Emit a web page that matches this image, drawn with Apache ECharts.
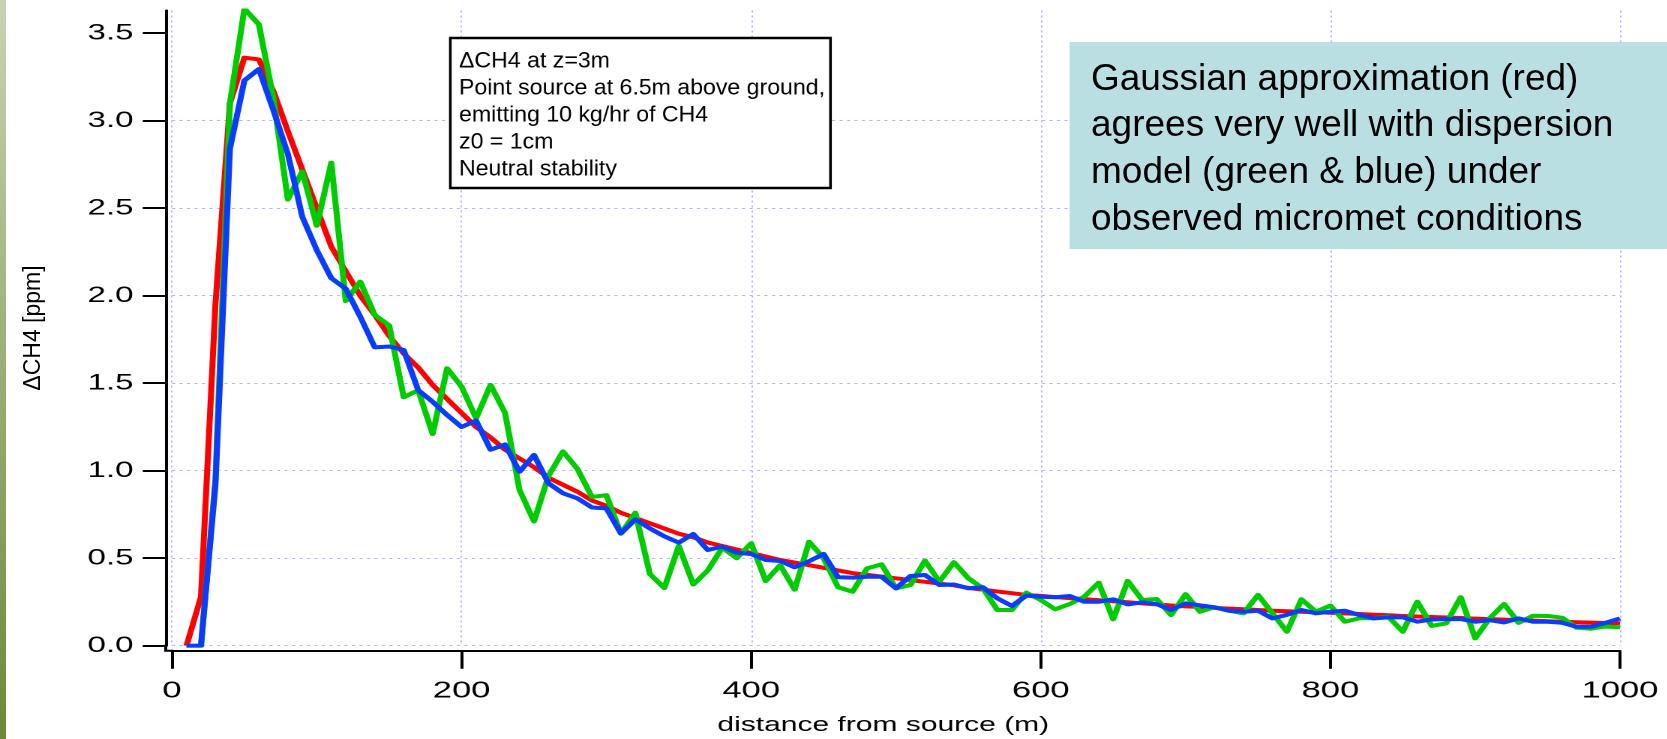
<!DOCTYPE html>
<html>
<head>
<meta charset="utf-8">
<script src="https://cdn.jsdelivr.net/npm/echarts@6/dist/echarts.min.js"></script>
<style>
html,body{margin:0;padding:0;background:#fff;overflow:hidden;width:1667px;height:739px}
#main{position:absolute;left:0;top:0;width:1111px;height:739px;transform:scaleX(1.5);transform-origin:0 0}
#over{position:absolute;left:0;top:0;width:1667px;height:739px;pointer-events:none}
</style>
</head>
<body>
<div id="main"></div>
<div id="over"></div>
<script>
// ---- data (distance in m, ΔCH4 in ppm) ----
const distance = [10,20,30,40,50,60,70,80,90,100,
  110,120,130,140,150,160,170,180,190,200,
  210,220,230,240,250,260,270,280,290,300,
  310,320,330,340,350,360,370,380,390,400,
  410,420,430,440,450,460,470,480,490,500,
  510,520,530,540,550,560,570,580,590,600,
  610,620,630,640,650,660,670,680,690,700,
  710,720,730,740,750,760,770,780,790,800,
  810,820,830,840,850,860,870,880,890,900,
  910,920,930,940,950,960,970,980,990,1000];

const gaussianRed = [0.00,0.28,1.95,3.10,3.36,3.35,3.17,2.94,2.72,2.50,
  2.28,2.14,2.00,1.89,1.77,1.67,1.59,1.49,1.41,1.33,
  1.25,1.19,1.12,1.07,1.02,0.96,0.92,0.88,0.83,0.80,
  0.76,0.73,0.70,0.67,0.64,0.62,0.59,0.57,0.55,0.53,
  0.51,0.49,0.475,0.46,0.445,0.43,0.415,0.405,0.395,0.385,
  0.375,0.365,0.355,0.345,0.33,0.32,0.31,0.30,0.29,0.285,
  0.278,0.272,0.266,0.26,0.254,0.248,0.242,0.236,0.23,0.225,
  0.222,0.216,0.212,0.208,0.204,0.20,0.197,0.194,0.191,0.188,
  0.185,0.181,0.177,0.174,0.17,0.167,0.164,0.161,0.158,0.155,
  0.152,0.149,0.146,0.143,0.14,0.137,0.134,0.132,0.13,0.128];

const modelGreen = [0.00,0.00,0.95,3.10,3.64,3.55,3.13,2.55,2.71,2.40,
  2.76,1.97,2.08,1.89,1.83,1.42,1.46,1.21,1.585,1.48,
  1.30,1.49,1.33,0.89,0.71,0.97,1.11,1.01,0.85,0.86,
  0.64,0.76,0.41,0.33,0.57,0.35,0.43,0.56,0.50,0.585,
  0.37,0.46,0.32,0.594,0.50,0.334,0.309,0.442,0.465,0.328,
  0.347,0.486,0.366,0.477,0.385,0.328,0.204,0.204,0.303,0.261,
  0.208,0.238,0.28,0.36,0.151,0.37,0.261,0.267,0.175,0.294,
  0.194,0.22,0.20,0.185,0.29,0.185,0.08,0.265,0.194,0.229,
  0.137,0.157,0.157,0.166,0.08,0.251,0.113,0.128,0.277,0.042,
  0.157,0.238,0.131,0.171,0.17,0.16,0.103,0.097,0.11,0.105];

const modelBlue = [0.00,0.00,0.92,2.84,3.23,3.295,3.06,2.81,2.45,2.26,
  2.10,2.04,1.88,1.705,1.71,1.69,1.46,1.394,1.318,1.25,
  1.286,1.12,1.15,0.994,1.09,0.928,0.871,0.842,0.79,0.785,
  0.642,0.722,0.67,0.625,0.589,0.638,0.547,0.566,0.531,0.524,
  0.49,0.484,0.448,0.483,0.524,0.391,0.389,0.394,0.394,0.328,
  0.398,0.404,0.347,0.35,0.328,0.334,0.271,0.227,0.286,0.28,
  0.277,0.284,0.251,0.251,0.265,0.236,0.248,0.238,0.204,0.242,
  0.231,0.219,0.20,0.194,0.20,0.156,0.176,0.204,0.185,0.194,
  0.20,0.175,0.156,0.162,0.162,0.137,0.15,0.152,0.152,0.137,
  0.146,0.133,0.156,0.137,0.137,0.131,0.108,0.108,0.131,0.156];

const xTicks = [0,200,400,600,800,1000];
const yTicks = [0,0.5,1.0,1.5,2.0,2.5,3.0,3.5];

const infoLines = ['ΔCH4 at z=3m','Point source at 6.5m above ground,','emitting 10 kg/hr of CH4','z0 = 1cm','Neutral stability'];
const noteLines = ['Gaussian approximation (red)','agrees very well with dispersion','model (green & blue) under','observed micromet conditions'];
const xTitle = 'distance from source (m)';
const yTitle = 'ΔCH4 [ppm]';

// ---- chart ----
const FONT = '"Liberation Sans", Arial, Helvetica, sans-serif';
const pairs = arr => distance.map((d, i) => [d, arr[i]]);
const gridColor = '#b3b3ff';

// layout (chart is drawn 1.5x stretched horizontally, like the original)
const G = {left: 114.67, right: 31, top: 10.45, bottom: 93.3};
const Y_OFF = 4.2, X_OFF = 5, H = 739;

const main = echarts.init(document.getElementById('main'), null, {renderer: 'canvas', devicePixelRatio: 2});
main.setOption({
  animation: false,
  backgroundColor: '#ffffff',
  textStyle: {fontFamily: FONT},
  grid: {left: G.left, right: G.right, top: G.top, bottom: G.bottom, containLabel: false, outerBoundsMode: 'none'},
  xAxis: {
    type: 'value', min: xTicks[0], max: xTicks[xTicks.length - 1], interval: 200, offset: X_OFF,
    axisLine: {show: true, onZero: false, lineStyle: {color: '#000', width: 2}},
    axisTick: {show: true, length: 18, lineStyle: {color: '#000', width: 2}},
    axisLabel: {margin: 29, fontSize: 23, color: '#000', fontFamily: FONT, formatter: v => String(v)},
    splitLine: {show: true, lineStyle: {color: gridColor, type: [2, 3], width: 1}},
    name: xTitle, nameLocation: 'middle', nameGap: 65,
    nameTextStyle: {fontSize: 20, color: '#000', fontFamily: FONT, padding: [0, 17, 0, 0]}
  },
  yAxis: {
    type: 'value', min: 0, max: 3.63, interval: 0.5, offset: Y_OFF,
    axisLine: {show: true, onZero: false, lineStyle: {color: '#000', width: 2}},
    axisTick: {show: true, length: 15.3, customValues: yTicks, lineStyle: {color: '#000', width: 2}},
    axisLabel: {margin: 21.5, fontSize: 22, color: '#000', fontFamily: FONT, customValues: yTicks,
      formatter: v => (v > 3.55 ? '' : v.toFixed(1))},
    splitLine: {show: true, showMaxLine: false, lineStyle: {color: gridColor, type: [2, 3], width: 1}}
  },
  graphic: [
    // axis corner joining the offset axes
    {type: 'polyline', z: 50, shape: {points: [[G.left - Y_OFF, H - G.bottom - 1], [G.left - Y_OFF, H - G.bottom + X_OFF], [G.left + 1, H - G.bottom + X_OFF]]},
      style: {stroke: '#000', lineWidth: 2, fill: null}},
    {type: 'text', x: 301.1, y: 39.3, z: 100, scaleX: 0.70,
      style: {
        text: infoLines.join('\n'), fontSize: 22, fontFamily: FONT, lineHeight: 27, fill: '#000',
        backgroundColor: '#fff', borderColor: '#000', borderWidth: 2.5, padding: [8.5, 4, 4, 7]
      }}
  ],
  series: [
    {type: 'line', name: 'Gaussian', data: pairs(gaussianRed), showSymbol: false, z: 2,
      lineStyle: {color: '#ff0000', width: 4, join: 'round'}},
    {type: 'line', name: 'model A', data: pairs(modelGreen), showSymbol: false, z: 3,
      lineStyle: {color: '#00cc00', width: 4, join: 'round'}},
    {type: 'line', name: 'model B', data: pairs(modelBlue), showSymbol: false, z: 4,
      lineStyle: {color: '#0a3cff', width: 4, join: 'round'}}
  ]
});

const over = echarts.init(document.getElementById('over'), null, {renderer: 'canvas'});
over.setOption({
  animation: false,
  backgroundColor: 'transparent',
  graphic: [
    {type: 'rect', shape: {x: 0, y: 0, width: 6, height: 739},
      style: {fill: {type: 'linear', x: 0, y: 0, x2: 0, y2: 1,
        colorStops: [{offset: 0, color: '#c9d2b3'}, {offset: 1, color: '#6a8a38'}]}}},
    {type: 'rect', shape: {x: 1069.6, y: 42, width: 597.4, height: 207}, style: {fill: '#b9dfe3'}},
    {type: 'text', x: 1091, y: 56,
      style: {text: noteLines.join('\n'), fontSize: 37, fontFamily: FONT, lineHeight: 46.8, fill: '#000',
        align: 'left', verticalAlign: 'top'}},
    {type: 'text', x: 34, y: 328, rotation: Math.PI / 2,
      style: {text: yTitle, fontSize: 23, fontFamily: FONT, fill: '#000', align: 'center', verticalAlign: 'middle'}}
  ]
});
</script>
</body>
</html>
